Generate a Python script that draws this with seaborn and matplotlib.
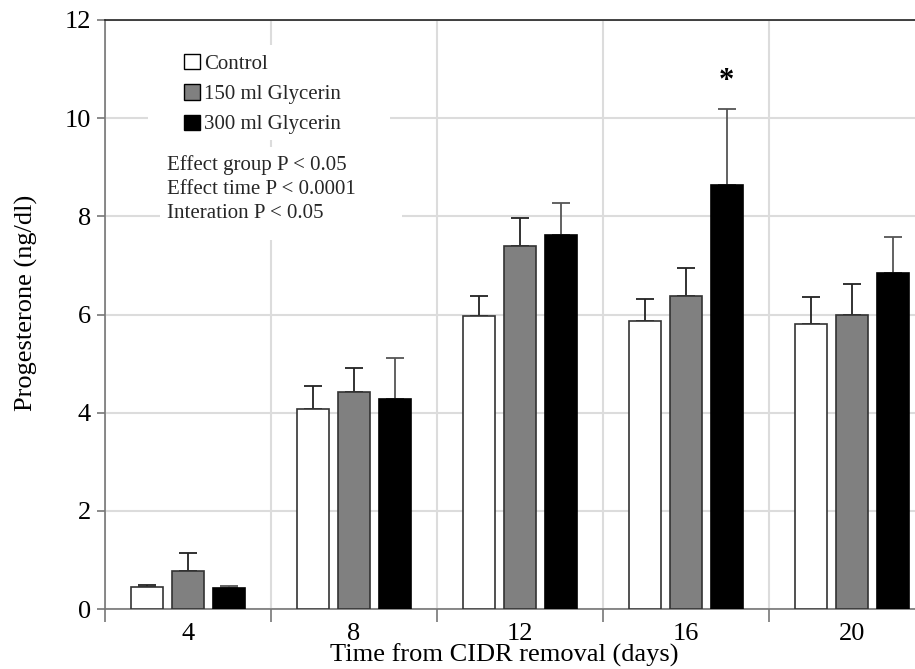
import matplotlib
matplotlib.use("Agg")
import matplotlib.pyplot as plt
import seaborn as sns
import pandas as pd
from matplotlib.patches import Patch, Rectangle
from matplotlib.ticker import FixedLocator, MultipleLocator

days = ["4", "8", "12", "16", "20"]
groups = ["Control", "150 ml Glycerin", "300 ml Glycerin"]
control = [0.45, 4.07, 5.97, 5.87, 5.80]
gly150 = [0.78, 4.42, 7.40, 6.37, 5.98]
gly300 = [0.42, 4.28, 7.62, 8.64, 6.85]
control_se = [0.04, 0.48, 0.41, 0.45, 0.55]
gly150_se = [0.37, 0.48, 0.57, 0.57, 0.64]
gly300_se = [0.05, 0.84, 0.66, 1.55, 0.72]
stats_text = ["Effect group P < 0.05", "Effect time P < 0.0001", "Interation P < 0.05"]

means = [control, gly150, gly300]
errs = [control_se, gly150_se, gly300_se]
df = pd.DataFrame({
    "day": [d for g in groups for d in days],
    "group": [g for g in groups for _ in days],
    "value": [v for m in means for v in m],
})

sns.set_theme(style="white")
plt.rcParams["font.family"] = ["Liberation Serif", "DejaVu Serif"]

fig = plt.figure(figsize=(9.15, 6.69), dpi=100)
ax = fig.add_axes([105 / 915, 60 / 669, 830 / 915, (609 - 20) / 669])

face = ["#ffffff", "#808080", "#000000"]
edge = ["#333333", "#333333", "#000000"]
ecol = ["#222222", "#222222", "#555555"]
sns.barplot(data=df, x="day", y="value", hue="group", order=days, hue_order=groups,
            palette=face, width=0.74, gap=0.24, errorbar=None, legend=False,
            linewidth=1.2, edgecolor="#333333", ax=ax, zorder=3)

bar_containers = list(ax.containers)
for i, cont in enumerate(bar_containers):
    xs = []
    for bar in cont.patches:
        bar.set_edgecolor(edge[i])
        xs.append(bar.get_x() + bar.get_width() / 2)
    ax.errorbar(xs, means[i], yerr=[[0] * len(xs), errs[i]], fmt="none",
                ecolor=ecol[i], elinewidth=1.3, capsize=6.5, capthick=1.3, zorder=2)

ax.set_xlim(-0.5, 4.5)
ax.set_ylim(0, 12)
ax.yaxis.set_major_locator(MultipleLocator(2))
ax.xaxis.set_minor_locator(FixedLocator([-0.5, 0.5, 1.5, 2.5, 3.5]))
ax.grid(True, which="major", axis="y", color="#dcdcdc", linewidth=1.5, zorder=0)
ax.grid(True, which="minor", axis="x", color="#dcdcdc", linewidth=1.5, zorder=0)
ax.set_axisbelow(True)

for s in ["left", "bottom"]:
    ax.spines[s].set_color("#777777")
    ax.spines[s].set_linewidth(1.2)
ax.spines["top"].set_color("#222222")
ax.spines["top"].set_linewidth(1.2)
ax.spines["right"].set_visible(False)

ax.tick_params(axis="y", which="major", left=True, length=6, width=1.2, color="#777777",
               labelsize=19, pad=4, labelcolor="black")
ax.tick_params(axis="x", which="major", bottom=False, labelsize=19, pad=4, labelcolor="black")
ax.tick_params(axis="x", which="minor", bottom=True, length=9, width=1.2, color="#777777")

ax.set_xlabel("Time from CIDR removal (days)", fontsize=19, color="black")
ax.set_ylabel("Progesterone (ng/dl)", fontsize=19, color="black")
ax.xaxis.set_label_coords(0.481, -0.058)
ax.yaxis.set_label_coords(-0.081, 0.52)

# white panels behind legend and statistics text (cover the grid)
ax.add_patch(Rectangle((0.0518, 0.7963), 0.2916, 0.1613, transform=ax.transAxes,
                       facecolor="white", edgecolor="none", zorder=1))
ax.add_patch(Rectangle((0.0663, 0.6265), 0.2916, 0.158, transform=ax.transAxes,
                       facecolor="white", edgecolor="none", zorder=1))

handles = [Patch(facecolor=face[i], edgecolor="#000000", linewidth=1) for i in range(3)]
leg = ax.legend(handles, groups, loc="upper left", bbox_to_anchor=(0.088, 0.953),
                fontsize=15, frameon=False, handlelength=0.75, handleheight=0.75,
                handletextpad=0.2, labelspacing=0.5, borderpad=0.3, borderaxespad=0)
leg.set_zorder(5)

ax.text(0.075, 0.771, "\n".join(stats_text), transform=ax.transAxes, fontsize=15,
        va="top", ha="left", linespacing=1.36, zorder=5)

ax.text(3.245, 10.45, "*", ha="center", va="bottom", fontsize=22, fontweight="bold",
        color="black", zorder=6)

fig.savefig("out.png", dpi=100)
